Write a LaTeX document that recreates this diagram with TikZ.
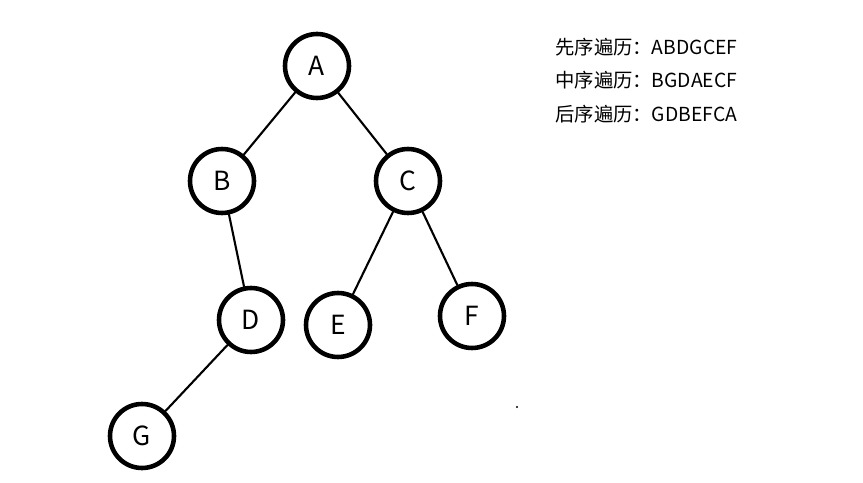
\documentclass[tikz,border=0pt]{standalone}
\usepackage{fontspec}
\setmainfont{Noto Sans CJK SC}
\usetikzlibrary{positioning}
\tikzset{
  treenode/.style={circle,draw,line width=2.6pt,minimum size=64*0.02cm,inner sep=0pt,font=\fontsize{15}{18}\selectfont},
  treeedge/.style={line width=1.2pt},
  traversal/.style={anchor=west,inner sep=0pt,font=\fontsize{11}{13}\selectfont}
}
\begin{document}
\begin{tikzpicture}[line cap=round,line join=round,x=0.02cm,y=-0.02cm]
  \useasboundingbox (0,0) rectangle (863,483);
  % tree nodes
  \node[treenode] (a) at (317,66) {A};
  \node[treenode] (b) at (222,181) {B};
  \node[treenode] (c) at (408,181) {C};
  \node[treenode] (d) at (251,320) {D};
  \node[treenode] (e) at (338,325) {E};
  \node[treenode] (f) at (472,316) {F};
  \node[treenode] (g) at (142,436) {G};
  % edges
  \draw[treeedge] (a) -- (b);
  \draw[treeedge] (a) -- (c);
  \draw[treeedge] (b) -- (d);
  \draw[treeedge] (c) -- (e);
  \draw[treeedge] (c) -- (f);
  \draw[treeedge] (d) -- (g);
  % traversals
  \node[traversal] (pre) at (555,47) {先序遍历：ABDGCEF};
  \node[traversal] (in) at (555,80) {中序遍历：BGDAECF};
  \node[traversal] (post) at (555,114) {后序遍历：GDBEFCA};
  \fill (517,407) circle (1.2);
\end{tikzpicture}
\end{document}
